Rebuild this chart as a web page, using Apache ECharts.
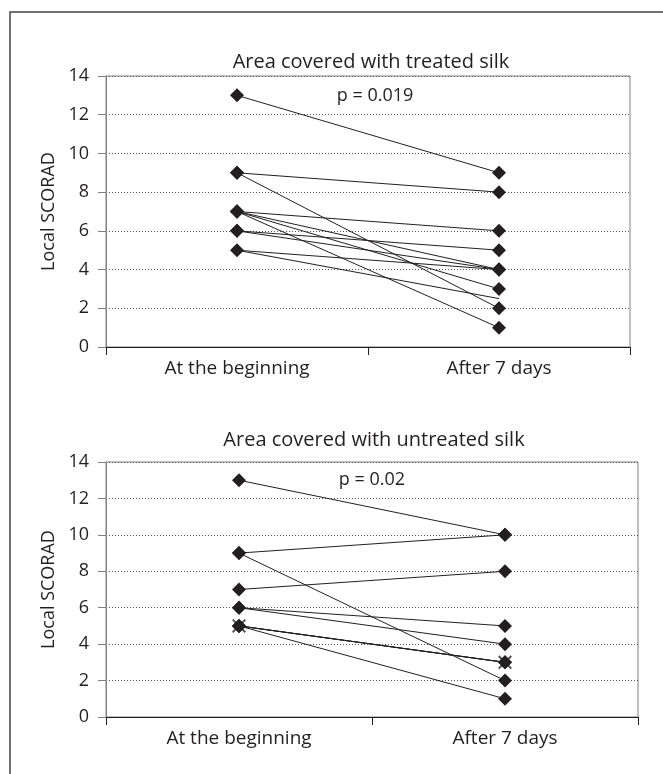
<!DOCTYPE html>
<html>
<head>
<meta charset="utf-8">
<script src="https://cdn.jsdelivr.net/npm/echarts@6/dist/echarts.min.js"></script>
<style>
html, body { margin: 0; padding: 0; background: #fff; }
#chart { width: 663px; height: 774px; }
</style>
</head>
<body>
<div id="chart"></div>
<script>
// categories and axis ticks
var categories = ['At the beginning', 'After 7 days'];
var yTicks = [0, 2, 4, 6, 8, 10, 12, 14];

// one entry per patient: score at the beginning -> after 7 days
var treatedBefore = [13, 9, 9, 7, 7, 7, 7, 6, 6, 5, 5];
var treatedAfter  = [9, 8, 2, 6, 4, 3, 1, 5, 4, 4, 2.5];
var untreatedBefore = [13, 9, 9, 7, 6, 6, 5, 5, 5];
var untreatedAfter  = [10, 10, 2, 8, 5, 4, 3, 3, 1];
// the patient drawn with the cross marker
var untreatedCross = [5, 3];

var titles = ['Area covered with treated silk', 'Area covered with untreated silk'];
var pValues = ['p = 0.019', 'p = 0.02'];

var ink = '#231f20';
var font = 'Open Sans';
var crossPath = 'path://M0,1L1,0L5,4L9,0L10,1L6,5L10,9L9,10L5,6L1,10L0,9L4,5Z';

function pairSeries(before, after, idx) {
	var out = [];
	for (var i = 0; i < before.length; i++) {
		out.push({
			type: 'line',
			xAxisIndex: idx,
			yAxisIndex: idx,
			data: [before[i], after[i]],
			symbol: Number.isInteger(after[i]) ? 'diamond' : 'none',
			symbolSize: 14,
			lineStyle: { color: ink, width: 1 },
			itemStyle: { color: ink },
			silent: true
		});
	}
	return out;
}

function xAxis(idx) {
	return {
		type: 'category', gridIndex: idx, data: categories, boundaryGap: true,
		axisLine: { lineStyle: { color: ink, width: 1 } },
		axisTick: { show: true, length: 8, lineStyle: { color: ink } },
		axisLabel: { fontSize: 19, color: ink, margin: 12, fontFamily: font },
		splitLine: { show: false }
	};
}

function yAxis(idx) {
	return {
		type: 'value', gridIndex: idx,
		min: yTicks[0], max: yTicks[yTicks.length - 1], interval: yTicks[1] - yTicks[0],
		name: 'Local SCORAD', nameLocation: 'middle', nameGap: 38,
		nameTextStyle: { fontSize: 18, color: ink, fontFamily: font },
		axisLine: { show: true, lineStyle: { color: '#808080' } },
		axisTick: { show: true, length: 8, lineStyle: { color: '#808080' } },
		axisLabel: { fontSize: 18, color: ink, margin: 17, fontFamily: font },
		splitLine: { show: true, lineStyle: { type: [1, 2], color: '#555' } }
	};
}

var series = [];
// cross marker first so the diamonds sit on top of it
series.push({
	type: 'line', xAxisIndex: 1, yAxisIndex: 1, data: untreatedCross,
	symbol: crossPath, symbolSize: 14,
	lineStyle: { color: ink, width: 1 }, itemStyle: { color: '#555' }, silent: true
});
series = series.concat(pairSeries(treatedBefore, treatedAfter, 0));
series = series.concat(pairSeries(untreatedBefore, untreatedAfter, 1));

var chart = echarts.init(document.getElementById('chart'));
chart.setOption({
	animation: false,
	backgroundColor: '#fff',
	textStyle: { fontFamily: font },
	grid: [
		{ left: 106, right: 33, top: 76, height: 271, show: true, borderColor: '#808080', borderWidth: 1 },
		{ left: 106, right: 25, top: 462, height: 255, show: true, borderColor: '#808080', borderWidth: 1 }
	],
	xAxis: [xAxis(0), xAxis(1)],
	yAxis: [yAxis(0), yAxis(1)],
	series: series,
	graphic: [
		{ type: 'rect', shape: { x: 10, y: 12, width: 700, height: 820 }, style: { fill: 'none', stroke: '#444', lineWidth: 1.5 }, silent: true },
		{ type: 'text', x: 371, y: 62, style: { text: titles[0], font: '20px "Open Sans"', fill: ink, textAlign: 'center', textVerticalAlign: 'middle' } },
		{ type: 'text', x: 374, y: 440, style: { text: titles[1], font: '20px "Open Sans"', fill: ink, textAlign: 'center', textVerticalAlign: 'middle' } },
		{ type: 'text', x: 375, y: 96, style: { text: pValues[0], font: '18px "Open Sans"', fill: ink, textAlign: 'center', textVerticalAlign: 'middle' } },
		{ type: 'text', x: 372, y: 480, style: { text: pValues[1], font: '18px "Open Sans"', fill: ink, textAlign: 'center', textVerticalAlign: 'middle' } }
	]
});
</script>
</body>
</html>
